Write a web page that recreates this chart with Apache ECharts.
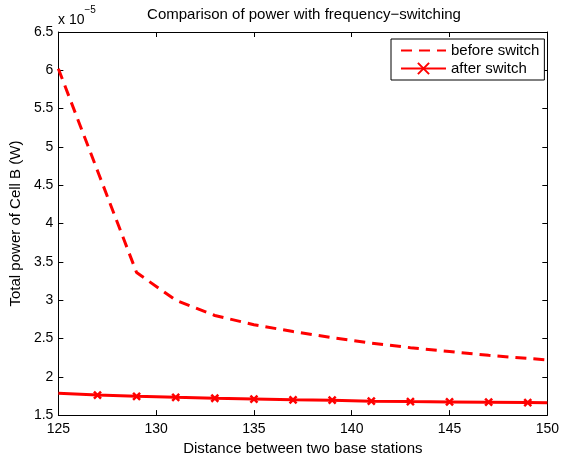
<!DOCTYPE html>
<html>
<head>
<meta charset="utf-8">
<script src="https://cdn.jsdelivr.net/npm/echarts@6/dist/echarts.min.js"></script>
<style>
  html, body { margin: 0; padding: 0; background: #fff; }
  #chart { width: 562px; height: 461px; }
</style>
</head>
<body>
<div id="chart"></div>
<script>
// distance between the two base stations
const distances = [125, 127, 129, 131, 133, 135, 137, 139, 141, 143, 145, 147, 149, 150];
// total power of cell B, in units of 1e-5 W
const beforeSwitch = [6.02, 4.69, 3.36, 3.00, 2.80, 2.68, 2.59, 2.51, 2.44, 2.38, 2.33, 2.28, 2.24, 2.22];
const afterSwitch = [1.784, 1.762, 1.745, 1.732, 1.72, 1.71, 1.70, 1.694, 1.682, 1.676, 1.672, 1.668, 1.663, 1.66];
const xTicks = [125, 130, 135, 140, 145, 150];
const yTicks = [1.5, 2, 2.5, 3, 3.5, 4, 4.5, 5, 5.5, 6, 6.5];

const font = 'Liberation Sans, Arial, Helvetica, sans-serif';
const red = '#ff0000';

// markers only on the inner points, like the original plot
const afterData = distances.map((d, i) => {
  const item = { value: [d, afterSwitch[i]] };
  if (i === 0 || i === distances.length - 1) item.symbol = 'none';
  return item;
});

const chartDom = document.getElementById('chart');
const myChart = echarts.init(chartDom, null, { renderer: 'canvas' });

const axisCommon = {
  type: 'value',
  axisLine: { show: true, onZero: false, lineStyle: { color: '#000', width: 1 } },
  axisTick: { show: true, inside: true, length: 5, lineStyle: { color: '#000' } },
  splitLine: { show: false },
};

let option = {
  backgroundColor: '#fff',
  animation: false,
  title: {
    text: 'Comparison of power with frequency\u2212switching',
    left: 304,
    top: 7,
    padding: 0,
    textAlign: 'center',
    textStyle: { fontFamily: font, fontSize: 15, fontWeight: 'normal', color: '#000' },
  },
  grid: { left: 58, right: 11, top: 32, bottom: 42 },
  legend: {
    orient: 'vertical',
    left: 391,
    top: 39,
    padding: [4, 5, 4, 9],
    itemWidth: 45,
    itemHeight: 14,
    itemGap: 3,
    backgroundColor: '#fff',
    borderColor: '#000',
    borderWidth: 1,
    borderRadius: 0,
    textStyle: { fontFamily: font, fontSize: 15, color: '#000' },
    data: [
      { name: 'before switch', itemStyle: { opacity: 0 } },
      { name: 'after switch', itemStyle: { borderWidth: 2 } },
    ],
  },
  xAxis: [
    {
      ...axisCommon,
      min: xTicks[0],
      max: xTicks[xTicks.length - 1],
      interval: 5,
      name: 'Distance between two base stations',
      nameLocation: 'middle',
      nameGap: 23,
      nameTextStyle: { fontFamily: font, fontSize: 15, color: '#000' },
      axisLabel: { fontFamily: font, fontSize: 14, color: '#000', margin: 7 },
    },
    {
      ...axisCommon,
      position: 'top',
      min: xTicks[0],
      max: xTicks[xTicks.length - 1],
      interval: 5,
      axisLabel: { show: false },
    },
  ],
  yAxis: [
    {
      ...axisCommon,
      min: yTicks[0],
      max: yTicks[yTicks.length - 1],
      interval: 0.5,
      name: 'Total power of Cell B (W)',
      nameLocation: 'middle',
      nameGap: 30,
      nameTextStyle: { fontFamily: font, fontSize: 15, color: '#000' },
      axisLabel: { fontFamily: font, fontSize: 14, color: '#000', margin: 5 },
    },
    {
      ...axisCommon,
      position: 'right',
      min: yTicks[0],
      max: yTicks[yTicks.length - 1],
      interval: 0.5,
      axisLabel: { show: false },
    },
  ],
  graphic: [
    {
      type: 'text',
      left: 58,
      top: 5,
      style: {
        text: '{b|x 10}{s|\u22125}',
        rich: {
          b: { fontFamily: font, fontSize: 14, color: '#000', padding: [8, 0, 0, 0] },
          s: { fontFamily: font, fontSize: 10, color: '#000', verticalAlign: 'top' },
        },
      },
    },
  ],
  series: [
    {
      name: 'before switch',
      type: 'line',
      data: distances.map((d, i) => [d, beforeSwitch[i]]),
      showSymbol: false,
      symbol: 'none',
      lineStyle: { color: red, width: 3, type: [11, 7] },
      itemStyle: { color: red },
    },
    {
      name: 'after switch',
      type: 'line',
      data: afterData,
      symbol: 'path://M0,0L10,10M10,0L0,10',
      symbolSize: 7,
      lineStyle: { color: red, width: 3 },
      itemStyle: { color: red, borderColor: red, borderWidth: 2.5 },
    },
  ],
};

option && myChart.setOption(option);
</script>
</body>
</html>
